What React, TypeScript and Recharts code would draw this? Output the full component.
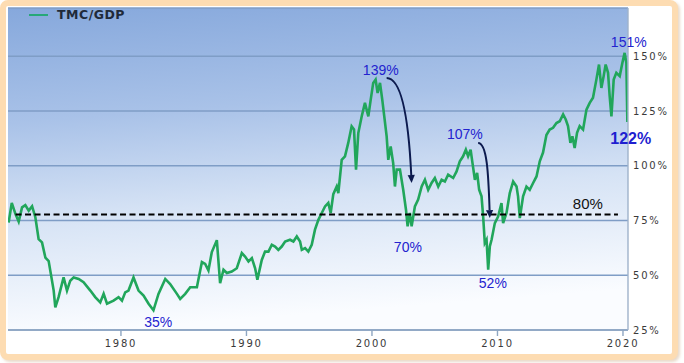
import React from 'react';
import { LineChart, Line, XAxis, YAxis, CartesianGrid, ReferenceLine, ReferenceDot, Legend } from 'recharts';

const years = [
  1971.05, 1971.3, 1971.59, 1971.85, 1972.12, 1972.38, 1972.65, 1972.92, 1973.18, 1973.44,
  1973.71, 1973.98, 1974.24, 1974.64, 1974.77, 1975.03, 1975.43, 1975.7, 1975.96, 1976.23,
  1976.63, 1977.02, 1977.56, 1977.95, 1978.35, 1978.62, 1978.89, 1979.41, 1979.81, 1980.08,
  1980.34, 1980.6, 1981.0, 1981.4, 1981.8, 1982.2, 1982.59, 1982.99, 1983.53, 1983.92,
  1984.46, 1984.72, 1985.12, 1985.52, 1986.05, 1986.45, 1986.71, 1986.97, 1987.24, 1987.64,
  1987.9, 1988.17, 1988.44, 1988.83, 1989.23, 1989.63, 1989.89, 1990.16, 1990.43, 1990.69,
  1990.87, 1991.22, 1991.48, 1991.75, 1992.02, 1992.28, 1992.54, 1992.81, 1993.08, 1993.47,
  1993.74, 1994.01, 1994.27, 1994.41, 1994.67, 1994.93, 1995.2, 1995.46, 1995.73, 1996.0,
  1996.26, 1996.52, 1996.71, 1996.92, 1997.19, 1997.32, 1997.59, 1997.85, 1998.11, 1998.38,
  1998.57, 1998.73, 1998.91, 1999.18, 1999.44, 1999.71, 1999.9, 2000.1, 2000.29, 2000.45,
  2000.64, 2000.82, 2000.98, 2001.17, 2001.3, 2001.49, 2001.69, 2001.83, 2001.97, 2002.23,
  2002.49, 2002.71, 2002.84, 2003.02, 2003.16, 2003.42, 2003.68, 2003.96, 2004.22, 2004.48,
  2004.75, 2005.01, 2005.28, 2005.55, 2005.81, 2006.07, 2006.47, 2006.74, 2007.0, 2007.26,
  2007.48, 2007.66, 2007.86, 2008.01, 2008.2, 2008.38, 2008.54, 2008.73, 2008.86, 2008.99,
  2009.13, 2009.26, 2009.39, 2009.53, 2009.79, 2010.05, 2010.32, 2010.45, 2010.72, 2010.98,
  2011.25, 2011.52, 2011.64, 2011.78, 2012.04, 2012.31, 2012.57, 2012.84, 2013.11, 2013.37,
  2013.63, 2013.9, 2014.16, 2014.43, 2014.7, 2014.96, 2015.23, 2015.44, 2015.62, 2015.81,
  2015.97, 2016.15, 2016.34, 2016.55, 2016.82, 2017.09, 2017.35, 2017.61, 2017.88, 2018.09,
  2018.28, 2018.46, 2018.62, 2018.81, 2018.94, 2019.08, 2019.26, 2019.47, 2019.74, 2019.95,
  2020.13, 2020.27, 2020.35,
];

const tmcGdp = [
  74, 83, 78, 74.5, 81, 82, 79.5, 81.5, 76.5, 66.5,
  65, 58, 56.5, 43, 35.3, 40, 49, 43, 47.5, 49,
  48.3, 46.8, 43, 40, 37.6, 41.5, 37, 38.4, 40, 38.4,
  42.2, 43, 49, 43, 40.7, 37, 34, 41.5, 48.3, 46,
  41.5, 39.2, 41.5, 44.5, 44.5, 56, 55.2, 52.2, 60.6, 66,
  46.4, 52.5, 51, 51.7, 53.2, 60.1, 58.5, 56.3, 57.8, 53.2,
  47.9, 57, 60.8, 60.8, 63.9, 63.1, 61.6, 63.1, 65.4, 66.2,
  65.4, 67.7, 65.4, 61.6, 62.4, 60.8, 63.9, 70.8, 75.3, 78.4,
  81.4, 83, 78.4, 87, 90.5, 87.5, 102.7, 104.3, 110.4, 118,
  116.5, 98.2, 114.9, 122.5, 128.7, 122.5, 130.2, 137.8, 139.3, 133.2,
  137.8, 130.2, 122.5, 113.4, 102.7, 108.8, 101.2, 90.5, 98.2, 98.2,
  89, 79.9, 72.3, 78.4, 72.3, 81.4, 84.5, 90.5, 93.6, 89,
  92.1, 94.4, 90.5, 93.6, 92.8, 95.9, 94.4, 97.4, 102, 104.3,
  107.3, 104.3, 107.3, 101.2, 93.6, 96.7, 89, 86, 76.8, 64.7,
  66.2, 52.5, 63.1, 66.2, 73.8, 76.8, 82.9, 73.8, 78.4, 87.5,
  92.8, 90.5, 86, 76.1, 86, 90.5, 89, 92.1, 95.1, 102,
  106, 114, 116.5, 117.3, 119.5, 120.3, 123.4, 121.1, 118.1, 110.4,
  113.4, 108.1, 115, 118.1, 116.5, 125.6, 128.7, 131, 139.3, 146.2,
  135.5, 140.9, 146.2, 142.4, 131.7, 122.5, 139.3, 142.4, 140.9, 146.9,
  151.5, 146.9, 120,
];

const xTicks = [1980, 1990, 2000, 2010, 2020];
const yTicks = [25, 50, 75, 100, 125, 150];
const fairLevel = 77.7;
const fairLabel = '80%';

const blueLabels = [
  { x: 2000.7, y: 143.9, text: '139%' },
  { x: 2002.86, y: 63.0, text: '70%' },
  { x: 2007.4, y: 114.6, text: '107%' },
  { x: 2009.63, y: 46.5, text: '52%' },
  { x: 1982.97, y: 28.7, text: '35%' },
  { x: 2020.46, y: 156.7, text: '151%' },
];
const lastLabel = { x: 2020.62, y: 112.3, text: '122%' };
const fairLabelPos = { x: 2017.2, y: 82.6 };

const arrows = [
  { x1: 2001.17, y1: 140.1, x2: 2003.16, y2: 92.1, bend: 0.6 },
  { x1: 2008.46, y1: 110.4, x2: 2009.39, y2: 76.1, bend: 0.75 },
];

const data = years.map((y, i) => ({ year: y, v: tmcGdp[i] }));

const makeArrow = (bend: number) => (props: any) => {
  const { x1, y1, x2, y2 } = props;
  if ([x1, y1, x2, y2].some((n) => typeof n !== 'number' || isNaN(n))) return <g />;
  const dx = x2 - x1;
  const dy = y2 - y1;
  const c1x = x1 + dx * bend;
  const c1y = y1;
  const c2x = x2 - dx * 0.12;
  const c2y = y1 + dy * 0.4;
  const ang = Math.atan2(y2 - c2y, x2 - c2x);
  const L = 8;
  const W = 3.6;
  const bx = x2 - L * Math.cos(ang);
  const by = y2 - L * Math.sin(ang);
  const px = -Math.sin(ang) * W;
  const py = Math.cos(ang) * W;
  return (
    <g>
      <path d={`M${x1},${y1} C${c1x},${c1y} ${c2x},${c2y} ${bx},${by}`} fill="none" stroke="#0c1a4e" strokeWidth={2} />
      <path d={`M${x2},${y2} L${bx + px},${by + py} L${bx - px},${by - py} Z`} fill="#0c1a4e" />
    </g>
  );
};

const tickStyle = { fontFamily: 'DejaVu Sans', fontSize: 10, letterSpacing: 1.8, fill: '#3a3a3a' };

const LegendContent = () => (
  <div style={{ display: 'flex', alignItems: 'center', whiteSpace: 'nowrap' }}>
    <svg width={22} height={6} style={{ marginRight: 7 }}>
      <line x1={1} y1={3} x2={20} y2={3} stroke="#27a878" strokeWidth={2} />
    </svg>
    <span style={{ fontFamily: 'DejaVu Sans', fontWeight: 'bold', fontSize: 12.5, color: '#1f2a3a', letterSpacing: 0.5 }}>
      TMC/GDP
    </span>
  </div>
);

export default function App() {
  return (
    <div style={{ position: 'absolute', left: 0, top: 0, width: 684, height: 363, background: '#fff', overflow: 'hidden' }}>
      <div
        style={{
          position: 'absolute',
          left: 0,
          top: 0,
          width: 678,
          height: 360,
          boxSizing: 'border-box',
          border: '6px solid #fddcb2',
          borderRadius: 8,
          boxShadow: '2px 2px 3px rgba(200,160,120,0.4)',
          background: '#fff',
        }}
      />
      <div style={{ position: 'absolute', left: 0, top: 0 }}>
        <LineChart width={684} height={363} data={data} margin={{ top: 8, left: 8, right: 8, bottom: 8 }}>
          <defs>
            <linearGradient id="bgGrad" x1="0" y1="0" x2="0.15" y2="1">
              <stop offset="0%" stopColor="#86a8dc" />
              <stop offset="35%" stopColor="#a9c2e8" />
              <stop offset="65%" stopColor="#d6e3f5" />
              <stop offset="100%" stopColor="#fafcff" />
            </linearGradient>
          </defs>
          <CartesianGrid vertical={false} stroke="#7f9dc6" strokeWidth={1.4} fill="url(#bgGrad)" fillOpacity={1} />
          <XAxis
            dataKey="year"
            type="number"
            domain={[1971, 2020.4]}
            ticks={xTicks}
            allowDataOverflow
            height={25}
            tick={tickStyle}
            tickSize={6}
            tickMargin={4}
            axisLine={{ stroke: '#8ea6c2', strokeWidth: 1.4 }}
            tickLine={{ stroke: '#8ea6c2', strokeWidth: 1.4 }}
          />
          <YAxis
            orientation="right"
            type="number"
            domain={[25, 172]}
            ticks={yTicks}
            allowDataOverflow
            width={48}
            tick={tickStyle}
            tickFormatter={(v: number) => `${v}%`}
            tickSize={0}
            tickMargin={5}
            tickLine={false}
            axisLine={{ stroke: '#9fb2cb', strokeWidth: 1.4 }}
          />
          <Legend
            layout="vertical"
            verticalAlign="middle"
            align="center"
            wrapperStyle={{ top: 7, left: 28, width: 140, height: 18 }}
            content={<LegendContent />}
          />
          <Line
            type="linear"
            dataKey="v"
            name="TMC/GDP"
            stroke="#21a65b"
            strokeWidth={2.6}
            dot={false}
            activeDot={false}
            isAnimationActive={false}
          />
          <ReferenceLine
            segment={[{ x: 1971.6, y: fairLevel }, { x: 2019.6, y: fairLevel }]}
            stroke="#000"
            strokeWidth={2}
            strokeDasharray="6 3.5"
            ifOverflow="visible"
          />
          {arrows.map((a, i) => (
            <ReferenceLine
              key={`arr${i}`}
              segment={[{ x: a.x1, y: a.y1 }, { x: a.x2, y: a.y2 }]}
              ifOverflow="visible"
              shape={makeArrow(a.bend)}
            />
          ))}
          {blueLabels.map((l, i) => (
            <ReferenceDot
              key={`lab${i}`}
              x={l.x}
              y={l.y}
              r={0}
              ifOverflow="visible"
              shape={(p: any) => (
                <text x={p.cx} y={p.cy} textAnchor="middle" dominantBaseline="central" fontFamily="Liberation Sans" fontSize={14} fill="#2323cf">
                  {l.text}
                </text>
              )}
            />
          ))}
          <ReferenceDot
            x={lastLabel.x}
            y={lastLabel.y}
            r={0}
            ifOverflow="visible"
            shape={(p: any) => (
              <text x={p.cx} y={p.cy} textAnchor="middle" dominantBaseline="central" fontFamily="Liberation Sans" fontWeight="bold" fontSize={16} fill="#1f1fd0">
                {lastLabel.text}
              </text>
            )}
          />
          <ReferenceDot
            x={fairLabelPos.x}
            y={fairLabelPos.y}
            r={0}
            ifOverflow="visible"
            shape={(p: any) => (
              <text x={p.cx} y={p.cy} textAnchor="middle" dominantBaseline="central" fontFamily="Liberation Sans" fontSize={15} fill="#111">
                {fairLabel}
              </text>
            )}
          />
        </LineChart>
      </div>
    </div>
  );
}
